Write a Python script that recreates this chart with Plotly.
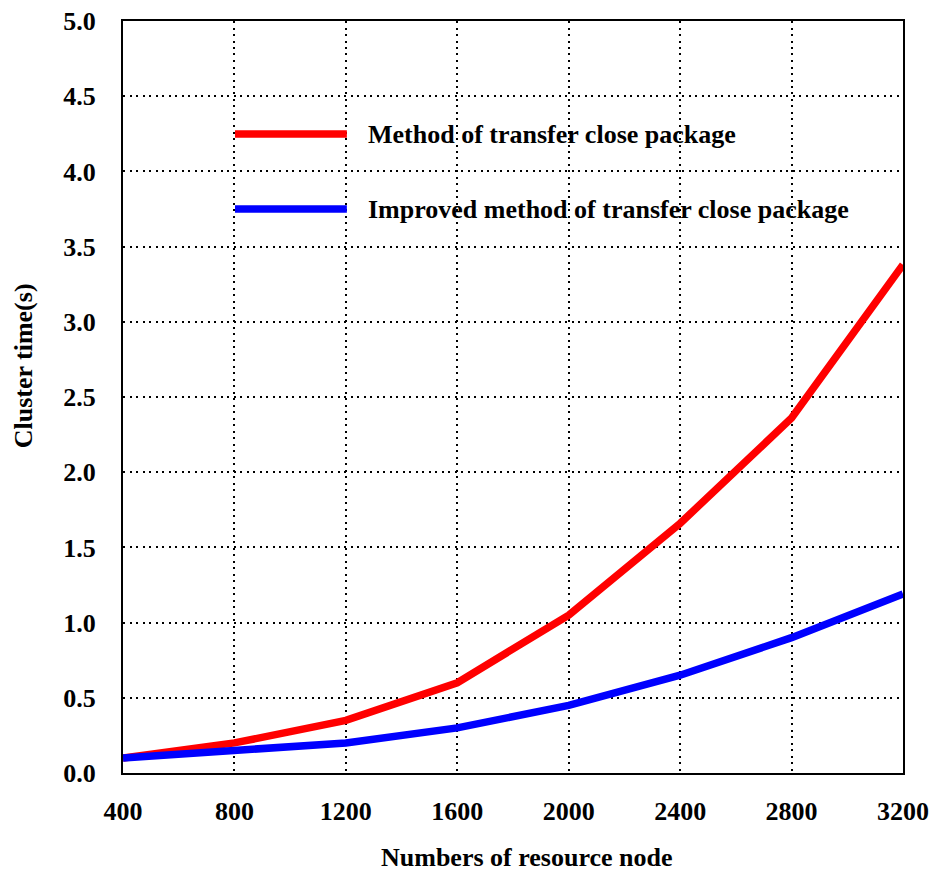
import plotly.graph_objects as go

nodes = [400, 800, 1200, 1600, 2000, 2400, 2800, 3200]
method_time = [0.10, 0.20, 0.35, 0.60, 1.05, 1.66, 2.36, 3.38]
improved_time = [0.10, 0.15, 0.20, 0.30, 0.45, 0.65, 0.90, 1.19]
series_names = ["Method of transfer close package", "Improved method of transfer close package"]
series_colors = ["#ff0000", "#0000ff"]
x_ticks = [400, 800, 1200, 1600, 2000, 2400, 2800, 3200]
y_ticks = [0.0, 0.5, 1.0, 1.5, 2.0, 2.5, 3.0, 3.5, 4.0, 4.5, 5.0]

FONT = "Liberation Serif, Times New Roman, serif"
GRID_DASH = "2px,4.5px"

fig = go.Figure()
for vals, name, col in zip([method_time, improved_time], series_names, series_colors):
    fig.add_trace(go.Scatter(x=nodes, y=vals, mode="lines", name=name,
                             line=dict(color=col, width=7.5), showlegend=False))

# custom legend
legend_rows = [(0.8497, series_colors[0], series_names[0]), (0.750, series_colors[1], series_names[1])]
for yy, col, name in legend_rows:
    fig.add_shape(type="line", xref="paper", yref="paper", x0=0.1436, x1=0.287, y0=yy, y1=yy,
                  line=dict(color=col, width=7.5))
    fig.add_annotation(xref="paper", yref="paper", x=0.3115, y=yy, text="<b>%s</b>" % name,
                       showarrow=False, xanchor="left", yanchor="middle",
                       font=dict(family=FONT, size=26, color="black"))

# axis titles
fig.add_annotation(xref="paper", yref="paper", x=0.518, y=-0.113, text="<b>Numbers of resource node</b>",
                   showarrow=False, xanchor="center", yanchor="middle",
                   font=dict(family=FONT, size=26, color="black"))
fig.add_annotation(xref="paper", yref="paper", x=-0.128, y=0.541, text="<b>Cluster time(s)</b>",
                   showarrow=False, xanchor="center", yanchor="middle", textangle=-90,
                   font=dict(family=FONT, size=26, color="black"))

fig.update_layout(
    width=931, height=872,
    margin=dict(l=123, r=28, t=21, b=99),
    paper_bgcolor="white", plot_bgcolor="white",
    font=dict(family=FONT, size=26, color="black"),
    xaxis=dict(range=[400, 3200], tickvals=x_ticks, ticktext=["<b>%d</b>" % v for v in x_ticks],
               showgrid=True, gridcolor="black", griddash=GRID_DASH, gridwidth=2,
               showline=True, linecolor="black", linewidth=2, mirror=True,
               ticks="", ticklabelstandoff=14, zeroline=False, automargin=False,
               tickfont=dict(size=26)),
    yaxis=dict(range=[0, 5], tickvals=y_ticks, ticktext=["<b>%.1f</b>" % v for v in y_ticks],
               showgrid=True, gridcolor="black", griddash=GRID_DASH, gridwidth=2,
               showline=True, linecolor="black", linewidth=2, mirror=True,
               ticks="", ticklabelstandoff=20, zeroline=False, automargin=False,
               tickfont=dict(size=26)),
)

fig.write_html("out.html", config={"displayModeBar": False},
               post_script="document.body.style.margin='0';document.body.style.overflow='hidden';")
